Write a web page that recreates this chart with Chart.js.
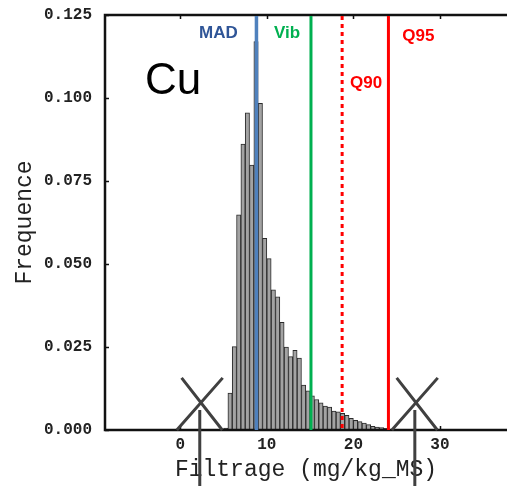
<!DOCTYPE html>
<html>
<head>
<meta charset="utf-8">
<script src="https://cdn.jsdelivr.net/npm/chart.js@4/dist/chart.umd.min.js"></script>
<style>
  html, body { margin: 0; padding: 0; background: #ffffff; overflow: hidden; }
  #wrap { width: 507px; height: 486px; position: relative; }
</style>
</head>
<body>
<div id="wrap"><canvas id="chart" width="507" height="486"></canvas></div>
<script>
// Histogram of Cu concentrations after filtering (bin width 0.5 mg/kg)
const binCenters = [
  5.25, 5.75, 6.25, 6.75, 7.25, 7.75, 8.25, 8.75, 9.25, 9.75,
  10.25, 10.75, 11.25, 11.75, 12.25, 12.75, 13.25, 13.75, 14.25, 14.75,
  15.25, 15.75, 16.25, 16.75, 17.25, 17.75, 18.25, 18.75, 19.25, 19.75,
  20.25, 20.75, 21.25, 21.75, 22.25, 22.75, 23.25, 23.75
];
const frequencies = [
  0.0006, 0.0111, 0.0251, 0.0648, 0.0861, 0.0955, 0.0798, 0.1170, 0.0984, 0.0577,
  0.0516, 0.0422, 0.0401, 0.0324, 0.0250, 0.0221, 0.0240, 0.0217, 0.0135, 0.0118,
  0.0103, 0.0092, 0.0082, 0.0072, 0.0069, 0.0057, 0.0055, 0.0050, 0.0044, 0.0035,
  0.0029, 0.0025, 0.0021, 0.0016, 0.0011, 0.0009, 0.0007, 0.0005
];
const xTickValues = [0, 10, 20, 30];
const yTickValues = [0, 0.025, 0.05, 0.075, 0.1, 0.125];

// Threshold values (mg/kg_MS)
const thresholdNames = ['MAD', 'Vib', 'Q90', 'Q95'];
const thresholdValues = [8.8, 15.1, 18.7, 24.05];

// Centres of the two crossed-out zones (mg/kg_MS)
const crossCenters = [2.25, 27.1];

// ---- styling ----
const thresholdStyle = {
  MAD: { color: '#4f81bd', text: '#2f5597', dash: [], width: 3.5, dx: -38, dy: 18 },
  Vib: { color: '#00b050', text: '#00b050', dash: [], width: 3, dx: -24, dy: 18 },
  Q90: { color: '#ff0000', text: '#ff0000', dash: [4, 4], width: 3, dx: 24, dy: 68 },
  Q95: { color: '#ff0000', text: '#ff0000', dash: [], width: 3, dx: 30, dy: 21 }
};
const crossStyle = { color: '#404040', width: 3, left: 2.65, right: 2.6, topLeft: 2.1, topRight: 2.65, height: 0.0157, stemFrom: 0.0060 };

const monoFont = '"Liberation Mono", "DejaVu Sans Mono", monospace';
const sansFont = '"Liberation Sans", Arial, sans-serif';

const overlayPlugin = {
  id: 'overlay',
  beforeDatasetsDraw(chart) {
    const { ctx, chartArea: a, scales: { x, y } } = chart;
    ctx.save();
    ctx.strokeStyle = '#111';
    ctx.lineWidth = 1.5;
    // inward tick marks
    ctx.beginPath();
    xTickValues.forEach(v => {
      const px = Math.round(x.getPixelForValue(v)) + 0.5;
      ctx.moveTo(px, a.bottom); ctx.lineTo(px, a.bottom - 4);
      ctx.moveTo(px, a.top); ctx.lineTo(px, a.top + 4);
    });
    yTickValues.forEach(v => {
      const py = Math.round(y.getPixelForValue(v)) + 0.5;
      ctx.moveTo(a.left, py); ctx.lineTo(a.left + 4, py);
    });
    ctx.stroke();
    ctx.restore();
  },
  afterDatasetsDraw(chart) {
    const { ctx, chartArea: a, scales: { x, y } } = chart;
    ctx.save();
    // frame: left, top and bottom lines
    ctx.strokeStyle = '#111';
    ctx.lineWidth = 2.5;
    ctx.beginPath();
    ctx.moveTo(a.right + 2, a.top); ctx.lineTo(a.left, a.top);
    ctx.lineTo(a.left, a.bottom); ctx.lineTo(a.right + 2, a.bottom);
    ctx.stroke();

    // threshold lines and their labels
    thresholdNames.forEach((name, i) => {
      const st = thresholdStyle[name];
      const px = x.getPixelForValue(thresholdValues[i]);
      ctx.strokeStyle = st.color;
      ctx.lineWidth = st.width;
      ctx.setLineDash(st.dash);
      ctx.beginPath();
      ctx.moveTo(px, a.top + 1);
      ctx.lineTo(px, a.bottom);
      ctx.stroke();
      ctx.setLineDash([]);
      ctx.fillStyle = st.text;
      ctx.font = 'bold 17px ' + sansFont;
      ctx.textAlign = 'center';
      ctx.textBaseline = 'middle';
      ctx.fillText(name, px + st.dx, a.top + st.dy);
    });

    // element symbol
    ctx.fillStyle = '#000';
    ctx.font = '44px ' + sansFont;
    ctx.textAlign = 'center';
    ctx.textBaseline = 'middle';
    ctx.fillText('Cu', a.left + 68, a.top + 67);
    ctx.restore();
  },
  afterDraw(chart) {
    const { ctx, scales: { x, y } } = chart;
    const cs = crossStyle;
    ctx.save();
    ctx.strokeStyle = cs.color;
    ctx.lineWidth = cs.width;
    ctx.lineCap = 'butt';
    crossCenters.forEach(c => {
      const y0 = y.getPixelForValue(0);
      const y1 = y.getPixelForValue(cs.height);
      ctx.beginPath();
      ctx.moveTo(x.getPixelForValue(c - cs.left), y0);
      ctx.lineTo(x.getPixelForValue(c + cs.topRight), y1);
      ctx.moveTo(x.getPixelForValue(c - cs.topLeft), y1);
      ctx.lineTo(x.getPixelForValue(c + cs.right), y0);
      ctx.moveTo(x.getPixelForValue(c), y.getPixelForValue(cs.stemFrom));
      ctx.lineTo(x.getPixelForValue(c), chart.height);
      ctx.stroke();
    });
    ctx.restore();
  }
};

new Chart(document.getElementById('chart'), {
  type: 'bar',
  data: {
    datasets: [{
      data: binCenters.map((c, i) => ({ x: c, y: frequencies[i] })),
      backgroundColor: '#a3a3a3',
      borderColor: '#2b2b2b',
      borderWidth: 1,
      barPercentage: 1,
      categoryPercentage: 1
    }]
  },
  options: {
    responsive: false,
    devicePixelRatio: 1,
    animation: false,
    layout: { padding: { top: 15, right: 0, left: 0, bottom: 0 } },
    plugins: { legend: { display: false }, tooltip: { enabled: false } },
    scales: {
      x: {
        type: 'linear',
        offset: false,
        min: -8.7,
        max: 37.75,
        grid: { display: false, drawTicks: false },
        border: { display: false },
        afterBuildTicks: s => { s.ticks = xTickValues.map(v => ({ value: v })); },
        afterFit: s => { s.height = 56; s.paddingLeft = 0; s.paddingRight = 0; },
        ticks: {
          padding: 5,
          color: '#222',
          font: { family: monoFont, size: 16, weight: 'bold' },
          callback: v => String(v),
          maxRotation: 0
        },
        title: {
          display: true,
          text: 'Filtrage (mg/kg_MS)',
          color: '#222',
          font: { family: monoFont, size: 23 },
          padding: { top: 0, bottom: 2 }
        }
      },
      y: {
        min: 0,
        max: 0.125,
        grid: { display: false, drawTicks: false },
        border: { display: false },
        afterBuildTicks: s => { s.ticks = yTickValues.map(v => ({ value: v })); },
        afterFit: s => { s.width = 105; s.paddingTop = 0; s.paddingBottom = 0; },
        ticks: {
          padding: 13,
          color: '#222',
          font: { family: monoFont, size: 16, weight: 'bold' },
          callback: v => v.toFixed(3)
        },
        title: {
          display: true,
          text: 'Frequence',
          color: '#222',
          font: { family: monoFont, size: 23 },
          padding: { top: 11, bottom: 0 }
        }
      }
    }
  },
  plugins: [overlayPlugin]
});
</script>
</body>
</html>
